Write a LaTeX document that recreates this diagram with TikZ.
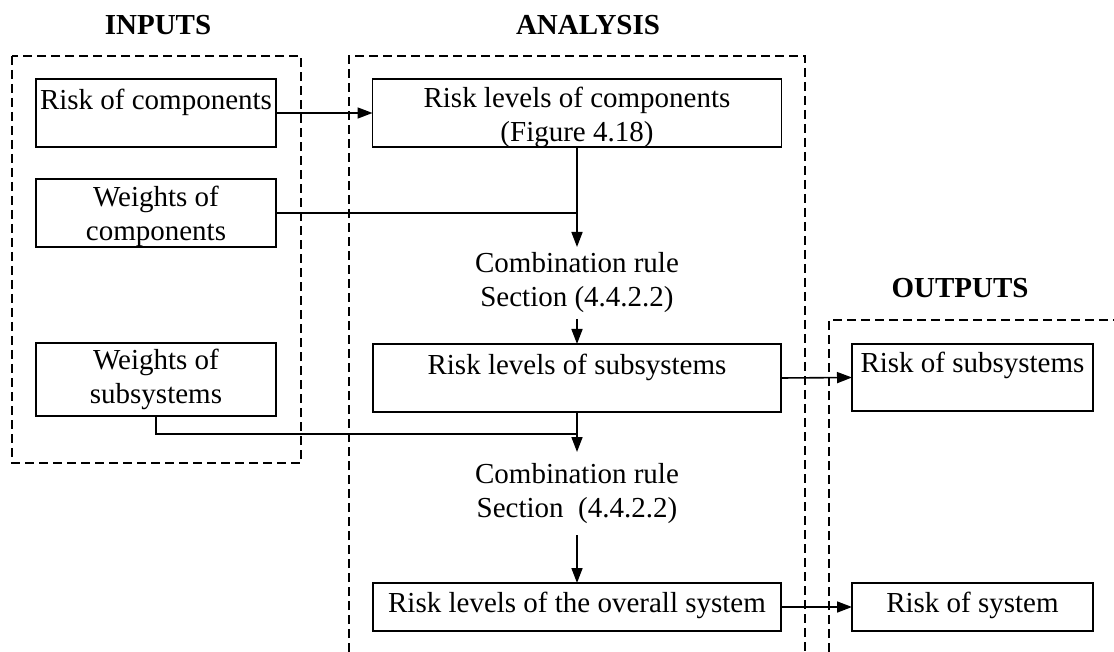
\documentclass[tikz,border=0pt]{standalone}
\usepackage{fontspec}
\setmainfont{Liberation Serif}
\usetikzlibrary{arrows.meta}
\newcommand\btext[4]{\parbox[c][#2][t]{#1}{\centering\vspace*{#3}#4\par}}
\begin{document}
\begin{tikzpicture}[x=1pt,y=-1pt,
  every node/.style={font=\fontsize{29}{34}\selectfont},
  bx/.style={draw, line width=1.9pt, inner sep=0pt, outer sep=0pt},
  head/.style={font=\fontsize{29}{34}\selectfont\bfseries},
  comb/.style={align=center, inner sep=0pt, outer sep=0pt},
  container/.style={line width=1.8pt, dash pattern=on 9pt off 5pt},
  link/.style={line width=1.6pt},
  arr/.style={line width=1.6pt, -{Triangle[length=15pt,width=11pt]}}]
\useasboundingbox (0,0) rectangle (1114,652);

% containers
\draw[container] (12,56) rectangle (301,463);
\draw[container] (349,652) -- (349,56) -- (805,56) -- (805,652);
\draw[container] (829,652) -- (829,320) -- (1114,320);

% headings
\node[head] (hin) at (158,25) {INPUTS};
\node[head] (han) at (588,25) {ANALYSIS};
\node[head] (hout) at (960,288) {OUTPUTS};

% input boxes
\node[bx] (rc) at (156,113) {\btext{240pt}{68pt}{10pt}{Risk of components}};
\node[bx] (wc) at (156,213) {\btext{240pt}{68pt}{7.5pt}{Weights of\\components}};
\node[bx] (ws) at (156,379.5) {\btext{240pt}{73pt}{6.5pt}{Weights of\\subsystems}};

% analysis
\node[bx] (rlc) at (577,113) {\btext{409pt}{68pt}{8.5pt}{Risk levels of components\\(Figure 4.18)}};
\node[comb, minimum height=72pt] (c1) at (577,283) {Combination rule\\Section (4.4.2.2)};
\node[bx] (rls) at (577,378) {\btext{408pt}{68pt}{10pt}{Risk levels of subsystems}};
\node[comb, minimum height=83pt] (c2) at (577,493.5) {Combination rule\\Section\ \ (4.4.2.2)};
\node[bx] (rlo) at (577,607) {\btext{408pt}{48pt}{9.5pt}{Risk levels of the overall system}};

% outputs
\node[bx] (ros) at (972.5,377.5) {\btext{241pt}{67pt}{8.5pt}{Risk of subsystems}};
\node[bx] (rsy) at (972.5,607) {\btext{241pt}{48pt}{9.5pt}{Risk of system}};

% junctions
\coordinate (j1) at (577,213);
\coordinate (j2) at (577,434);

% connectors
\draw[arr] (rc.east) -- (rlc.west);
\draw[link] (wc.east) -- (j1);
\draw[arr] (rlc.south) -- (c1.north);
\draw[arr] (c1.south) -- (rls.north);
\draw[link] (ws.south) |- (j2);
\draw[arr] (rls.south) -- (c2.north);
\draw[arr] (c2.south) -- (rlo.north);
\draw[arr] (rls.east) -- (ros.west);
\draw[arr] (rlo.east) -- (rsy.west);
\end{tikzpicture}
\end{document}
